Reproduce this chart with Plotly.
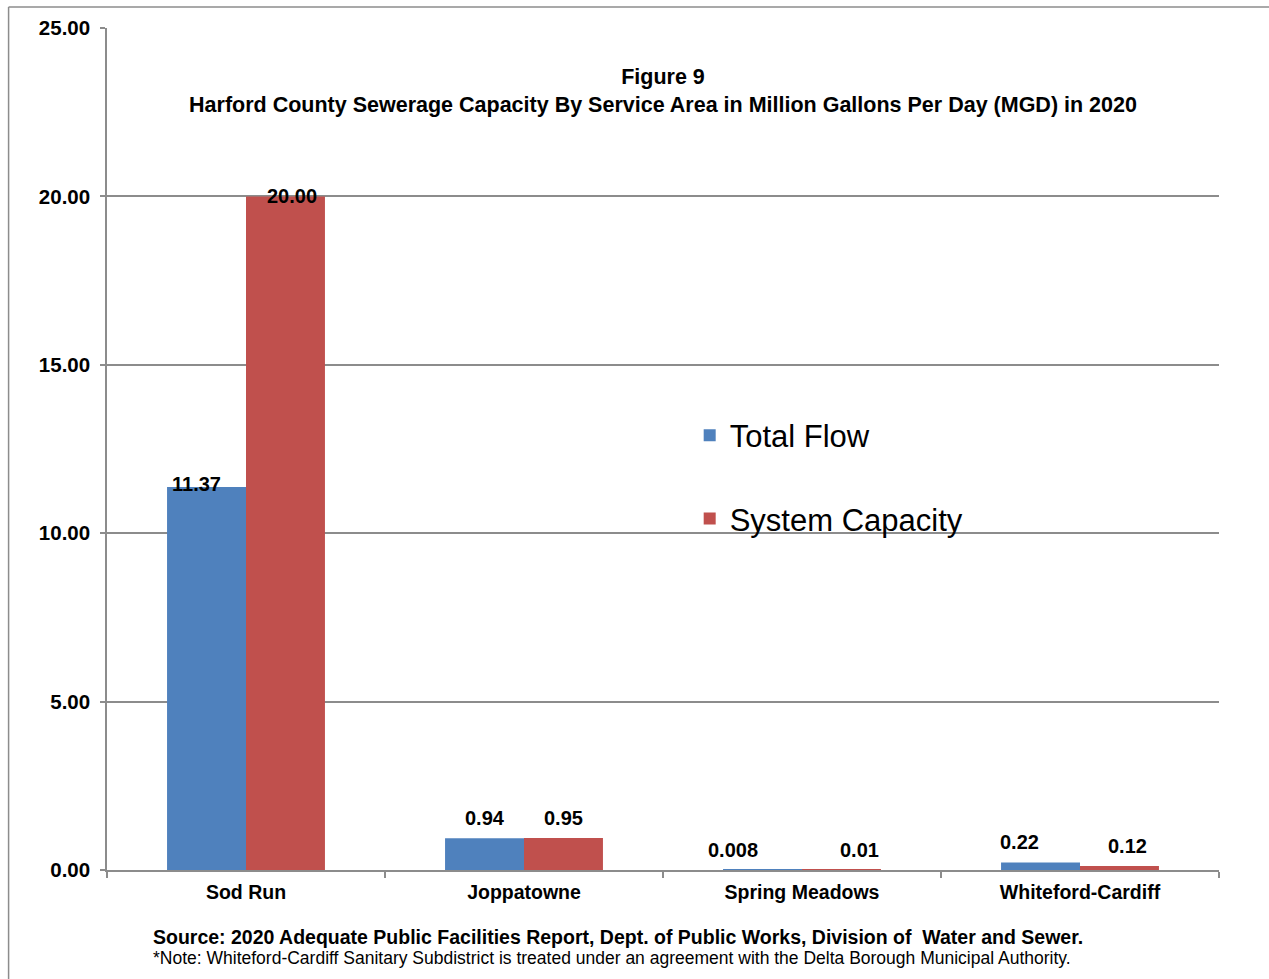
import plotly.graph_objects as go

# Service areas and flows (MGD), 2020
areas = ["Sod Run", "Joppatowne", "Spring Meadows", "Whiteford-Cardiff"]
total_flow = [11.37, 0.94, 0.008, 0.22]
system_capacity = [20.00, 0.95, 0.01, 0.12]
flow_labels = ["11.37", "0.94", "0.008", "0.22"]
capacity_labels = ["20.00", "0.95", "0.01", "0.12"]

y_ticks = [0, 5, 10, 15, 20, 25]
y_tick_text = ["0.00", "5.00", "10.00", "15.00", "20.00", "25.00"]

BLUE = "#4F81BD"
RED = "#C0504D"
GRID = "#8c8c8c"
FONT = "Liberation Sans, Arial, sans-serif"

fig = go.Figure()
fig.add_trace(go.Bar(name="Total Flow", x=areas, y=total_flow,
                     marker=dict(color=BLUE, line=dict(width=0)),
                     legendgroup="flow"))
fig.add_trace(go.Bar(name="System Capacity", x=areas, y=system_capacity,
                     marker=dict(color=RED, line=dict(width=0)),
                     legendgroup="cap"))

# Data labels: bar half-offset within each group, plus hand-placed nudges (px)
half = 0.142
flow_nudge = [(-10, 3), (0, 20), (-30, 20), (-21, 21)]
cap_nudge = [(7, 0), (0, 20), (18, 20), (8, 20)]
annotations = []
for i in range(len(areas)):
    for val, txt, off, (dx, dy) in (
        (total_flow[i], flow_labels[i], -half, flow_nudge[i]),
        (system_capacity[i], capacity_labels[i], half, cap_nudge[i]),
    ):
        annotations.append(dict(
            x=i + off, y=val, xref="x", yref="y", text=f"<b>{txt}</b>",
            showarrow=False, xanchor="center", yanchor="middle",
            xshift=dx, yshift=dy,
            font=dict(family=FONT, size=20, color="#000000"),
        ))

annotations.append(dict(
    x=0.0395, y=-0.0796, xref="paper", yref="paper", xanchor="left",
    yanchor="middle", showarrow=False,
    text="<b>Source: 2020 Adequate Public Facilities Report, Dept. of Public Works, Division of  Water and Sewer.</b>",
    font=dict(family=FONT, size=19.5, color="#000000"),
))
annotations.append(dict(
    x=0.0395, y=-0.1045, xref="paper", yref="paper", xanchor="left",
    yanchor="middle", showarrow=False,
    text="*Note: Whiteford-Cardiff Sanitary Subdistrict is treated under an agreement with the Delta Borough Municipal Authority.",
    font=dict(family=FONT, size=17.5, color="#000000"),
))

fig.update_layout(
    width=1269, height=979,
    margin=dict(l=107, r=50, t=28, b=109),
    paper_bgcolor="white", plot_bgcolor="white",
    barmode="group", bargap=0.432, bargroupgap=0,
    font=dict(family=FONT, color="#000000"),
    title=dict(
        text="<b>Figure 9<br>Harford County Sewerage Capacity By Service Area in Million Gallons Per Day (MGD) in 2020</b>",
        x=0.5, xref="paper", xanchor="center",
        y=1 - 84 / 979, yref="container", yanchor="middle",
        font=dict(family=FONT, size=21.5, color="#000000"),
    ),
    legend=dict(
        x=0.524, y=0.548, xanchor="left", yanchor="top",
        bgcolor="rgba(0,0,0,0)", tracegroupgap=40,
        font=dict(family=FONT, size=31, color="#000000"),
    ),
    showlegend=True,
    annotations=annotations,
    shapes=[
        # outer frame (left and top edges)
        dict(type="line", xref="paper", yref="paper",
             x0=-0.0885, x1=-0.0885, y0=1.025, y1=-0.2, line=dict(color=GRID, width=1.5)),
        dict(type="line", xref="paper", yref="paper",
             x0=-0.0885, x1=1.06, y0=1.0249, y1=1.0249, line=dict(color=GRID, width=1.5)),
    ],
)

fig.update_xaxes(
    type="category", tickson="boundaries", ticks="outside", ticklen=6,
    tickcolor=GRID, tickwidth=1.5,
    showline=True, linecolor=GRID, linewidth=1.5,
    showgrid=False, range=[-0.5, 3.5],
    tickfont=dict(family=FONT, size=19.5, color="#000000"),
    ticklabelstandoff=4,
)
fig.update_xaxes(ticktext=[f"<b>{a}</b>" for a in areas], tickvals=areas)
fig.update_yaxes(
    range=[0, 25], tickvals=y_ticks, ticktext=[f"<b>{t}</b>" for t in y_tick_text],
    ticks="outside", ticklen=5, tickcolor=GRID, tickwidth=1.5,
    showline=True, linecolor=GRID, linewidth=1.5,
    showgrid=True, gridcolor=GRID, gridwidth=1.5,
    zeroline=False,
    tickfont=dict(family=FONT, size=20.5, color="#000000"),
    ticklabelstandoff=6,
)

fig.write_html("out.html")
